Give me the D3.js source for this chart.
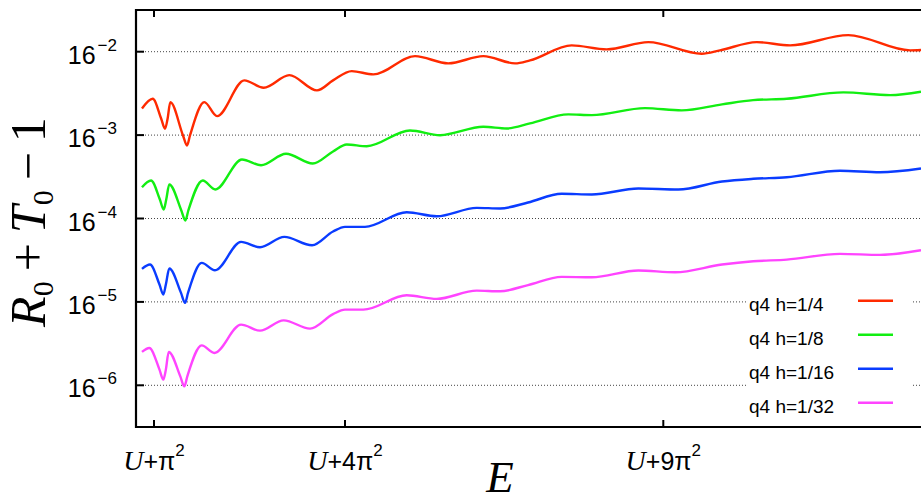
<!DOCTYPE html>
<html>
<head>
<meta charset="utf-8">
<script src="https://cdn.jsdelivr.net/npm/d3@7"></script>
<style>
  html, body { margin: 0; padding: 0; background: #fff; }
  svg { display: block; }
</style>
</head>
<body>
<svg id="chart" width="921" height="502"></svg>
<script>
// Energy positions are given as (E - U) / π²; values are exponents of 16 for R0 + T0 - 1.
const h4E   = [0.811, 0.980, 1.113, 1.173, 1.213, 1.256, 1.455, 1.518, 1.565, 1.790, 1.990, 2.418, 2.723, 3.125, 3.560, 3.812, 4.106, 4.445, 5.100, 5.623, 6.173, 6.671, 6.906, 7.561, 8.111, 8.765, 9.604, 9.891, 10.467, 10.991, 11.906, 12.876, 13.048];
const h4Log = [-2.680, -2.564, -2.804, -2.924, -2.804, -2.605, -3.004, -3.124, -3.004, -2.605, -2.773, -2.344, -2.432, -2.281, -2.464, -2.344, -2.233, -2.272, -2.053, -2.140, -2.053, -2.140, -2.104, -1.924, -1.972, -1.885, -2.024, -1.984, -1.885, -1.924, -1.801, -1.984, -1.980];

const h8E   = [0.811, 0.953, 1.092, 1.152, 1.192, 1.240, 1.429, 1.492, 1.539, 1.765, 1.963, 2.382, 2.681, 3.074, 3.493, 3.812, 4.027, 4.341, 5.021, 5.493, 6.173, 6.540, 6.906, 7.508, 7.876, 8.713, 9.289, 9.922, 10.409, 10.939, 11.828, 12.562, 13.048];
const h8Log = [-3.625, -3.544, -3.772, -3.892, -3.772, -3.592, -3.904, -4.024, -3.904, -3.544, -3.652, -3.292, -3.361, -3.224, -3.340, -3.196, -3.112, -3.133, -2.944, -3.001, -2.900, -2.920, -2.860, -2.752, -2.761, -2.677, -2.704, -2.632, -2.581, -2.564, -2.488, -2.521, -2.480];

const h16E   = [0.811, 0.937, 1.086, 1.146, 1.186, 1.240, 1.424, 1.487, 1.534, 1.749, 1.958, 2.367, 2.665, 3.047, 3.482, 3.812, 4.000, 4.314, 4.970, 5.441, 6.069, 6.435, 6.875, 7.404, 7.876, 8.608, 9.236, 9.922, 10.414, 10.939, 11.776, 12.404, 13.048];
const h16Log = [-4.604, -4.552, -4.792, -4.912, -4.792, -4.600, -4.892, -5.012, -4.892, -4.532, -4.621, -4.280, -4.345, -4.220, -4.321, -4.156, -4.100, -4.100, -3.925, -3.973, -3.872, -3.880, -3.808, -3.704, -3.712, -3.640, -3.652, -3.556, -3.524, -3.505, -3.428, -3.445, -3.400];

const h32E   = [0.811, 0.926, 1.086, 1.146, 1.186, 1.231, 1.413, 1.476, 1.523, 1.749, 1.947, 2.367, 2.665, 3.037, 3.451, 3.812, 4.000, 4.288, 4.970, 5.441, 6.069, 6.435, 6.875, 7.404, 7.876, 8.608, 9.184, 9.922, 10.414, 10.939, 11.776, 12.404, 13.048];
const h32Log = [-5.600, -5.552, -5.812, -5.932, -5.812, -5.600, -5.893, -6.013, -5.893, -5.521, -5.612, -5.273, -5.345, -5.221, -5.321, -5.147, -5.093, -5.093, -4.921, -4.964, -4.865, -4.873, -4.798, -4.700, -4.705, -4.624, -4.645, -4.552, -4.513, -4.493, -4.424, -4.436, -4.381];

const seriesNames  = ["q4 h=1/4", "q4 h=1/8", "q4 h=1/16", "q4 h=1/32"];
const seriesColors = ["#ff2a00", "#12ee12", "#0a3cff", "#ff44ff"];

const xTickMultiples = [1, 4, 9];          // U + k·π²
const yTickExponents = [-2, -3, -4, -5, -6]; // 16^k

const series = [
  { name: seriesNames[0], color: seriesColors[0], e: h4E,  v: h4Log  },
  { name: seriesNames[1], color: seriesColors[1], e: h8E,  v: h8Log  },
  { name: seriesNames[2], color: seriesColors[2], e: h16E, v: h16Log },
  { name: seriesNames[3], color: seriesColors[3], e: h32E, v: h32Log }
].map(s => ({ ...s, points: s.e.map((e, i) => [e, Math.pow(16, s.v[i])]) }));

const svg = d3.select("#chart");
const plotL = 136, plotT = 10, plotR = 921, plotB = 427;

const x = d3.scaleLinear().domain([0.717, 13.048]).range([plotL, plotR]);
const y = d3.scaleLog().base(16).domain([Math.pow(16, -6.5), Math.pow(16, -1.5)]).range([plotB, plotT]);

svg.append("defs").append("clipPath").attr("id", "plot-clip")
  .append("rect").attr("x", plotL).attr("y", plotT).attr("width", plotR - plotL).attr("height", plotB - plotT);

// dotted grid at each power of 16
svg.append("g").selectAll("line").data(yTickExponents).join("line")
  .attr("x1", plotL).attr("x2", plotR)
  .attr("y1", k => y(Math.pow(16, k))).attr("y2", k => y(Math.pow(16, k)))
  .attr("stroke", "#444").attr("stroke-width", 1).attr("stroke-dasharray", "1,2");

// legend background blanks the grid behind the entries
svg.append("rect").attr("x", 747).attr("y", 288).attr("width", 164).attr("height", 134).attr("fill", "#fff");

// curves
const line = d3.line()
  .x(d => x(d[0])).y(d => y(d[1]))
  .curve(d3.curveMonotoneX);

svg.append("g").attr("clip-path", "url(#plot-clip)")
  .selectAll("path").data(series).join("path")
  .attr("d", s => line(s.points))
  .attr("fill", "none")
  .attr("stroke", s => s.color)
  .attr("stroke-width", 2.4)
  .attr("stroke-linejoin", "round");

// frame
const frame = svg.append("g").attr("stroke", "#000").attr("stroke-width", 2.2).attr("fill", "none");
frame.append("path").attr("d", `M${plotR},${plotT}H${plotL}V${plotB}H${plotR}`);

// y ticks (inward)
svg.append("g").selectAll("line").data(yTickExponents).join("line")
  .attr("x1", plotL).attr("x2", plotL + 8)
  .attr("y1", k => y(Math.pow(16, k))).attr("y2", k => y(Math.pow(16, k)))
  .attr("stroke", "#000").attr("stroke-width", 2);

// x ticks on bottom and top (inward)
const xt = svg.append("g").attr("stroke", "#000").attr("stroke-width", 2);
xt.selectAll(".b").data(xTickMultiples).join("line").attr("class", "b")
  .attr("x1", k => x(k)).attr("x2", k => x(k)).attr("y1", plotB).attr("y2", plotB - 7);
xt.selectAll(".t").data(xTickMultiples).join("line").attr("class", "t")
  .attr("x1", k => x(k)).attr("x2", k => x(k)).attr("y1", plotT).attr("y2", plotT + 7);

// y tick labels: 16^k
const yl = svg.append("g").selectAll("text").data(yTickExponents).join("text")
  .attr("x", 117).attr("y", k => y(Math.pow(16, k)) + 12)
  .attr("text-anchor", "end")
  .attr("font-family", "Liberation Sans, Arial, sans-serif")
  .attr("font-size", 25).attr("fill", "#000");
yl.append("tspan").text("16");
yl.append("tspan").attr("font-size", 17).attr("dx", 2).attr("dy", -13).text(k => "\u2212" + Math.abs(k));

// x tick labels: U + kπ²
const xl = svg.append("g").selectAll("text").data(xTickMultiples).join("text")
  .attr("x", k => x(k)).attr("y", 470)
  .attr("text-anchor", "middle")
  .attr("font-family", "Liberation Sans, Arial, sans-serif")
  .attr("font-size", 25).attr("fill", "#000");
xl.append("tspan").attr("font-family", "Liberation Serif, serif").attr("font-style", "italic").attr("font-size", 28).text("U");
xl.append("tspan").text(k => "+" + (k === 1 ? "" : k) + "\u03c0");
xl.append("tspan").attr("font-size", 17).attr("dy", -14).text("2");

// axis titles
const yTitle = svg.append("text")
  .attr("transform", "translate(45,222) rotate(-90)")
  .attr("text-anchor", "middle")
  .attr("font-family", "Liberation Serif, serif")
  .attr("font-size", 50).attr("fill", "#000");
yTitle.append("tspan").attr("font-style", "italic").text("R");
yTitle.append("tspan").attr("font-size", 30).attr("dy", 8).text("0");
yTitle.append("tspan").attr("dy", -8).attr("dx", 10).text("+");
yTitle.append("tspan").attr("dx", 10).attr("font-style", "italic").text("T");
yTitle.append("tspan").attr("font-size", 30).attr("dy", 8).text("0");
yTitle.append("tspan").attr("dy", -8).attr("dx", 10).text("\u2212");
yTitle.append("tspan").attr("dx", 10).text("1");

svg.append("text")
  .attr("x", 500).attr("y", 492)
  .attr("text-anchor", "middle")
  .attr("font-family", "Liberation Serif, serif")
  .attr("font-style", "italic")
  .attr("font-size", 45).attr("fill", "#000")
  .text("E");

// legend
const legend = svg.append("g").selectAll("g").data(series).join("g")
  .attr("transform", (s, i) => `translate(0, ${310.7 + i * 34})`);
legend.append("text")
  .attr("x", 749).attr("y", 0)
  .attr("font-family", "Liberation Sans, Arial, sans-serif")
  .attr("font-size", 19).attr("fill", "#000")
  .text(s => s.name);
legend.append("line")
  .attr("x1", 858).attr("x2", 893).attr("y1", -10).attr("y2", -10)
  .attr("stroke", s => s.color).attr("stroke-width", 2.4);
</script>
</body>
</html>
